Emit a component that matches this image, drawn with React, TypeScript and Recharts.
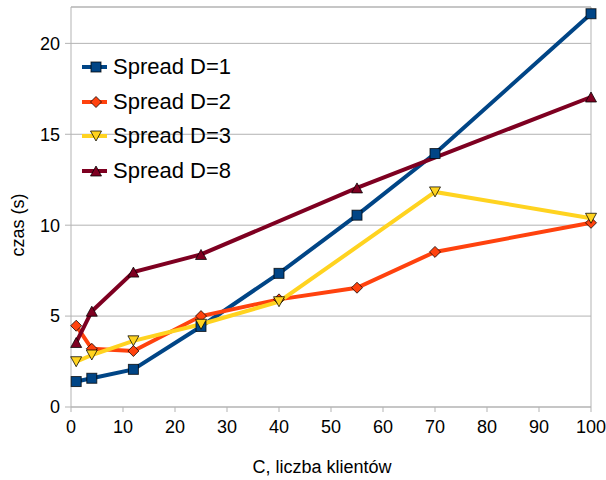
import React from "react";
import {
  LineChart,
  Line,
  XAxis,
  YAxis,
  CartesianGrid,
  ReferenceLine,
  Label,
} from "recharts";

// Response time (s) versus number of clients C, for each spread D
const clientsD1 = [1, 4, 12, 25, 40, 55, 70, 100];
const timeD1 = [1.4, 1.58, 2.07, 4.43, 7.35, 10.55, 13.94, 21.63];

const clientsD2 = [1, 4, 12, 25, 40, 55, 70, 100];
const timeD2 = [4.47, 3.2, 3.08, 5.0, 5.92, 6.56, 8.53, 10.13];

const clientsD3 = [1, 4, 12, 25, 40, 70, 100];
const timeD3 = [2.49, 2.86, 3.64, 4.55, 5.79, 11.83, 10.38];

const clientsD8 = [1, 4, 12, 25, 55, 100];
const timeD8 = [3.55, 5.27, 7.42, 8.39, 12.05, 17.05];

const xTicks = [0, 10, 20, 30, 40, 50, 60, 70, 80, 90, 100];
const yTicks = [0, 5, 10, 15, 20];

type Shape = "square" | "diamond" | "triDown" | "triUp";

const toRows = (xs: number[], ys: number[]) =>
  xs.map((c, i) => ({ c, v: ys[i] }));

const series = [
  { name: "Spread D=1", color: "#004586", shape: "square" as Shape, data: toRows(clientsD1, timeD1) },
  { name: "Spread D=2", color: "#ff420e", shape: "diamond" as Shape, data: toRows(clientsD2, timeD2) },
  { name: "Spread D=3", color: "#ffd320", shape: "triDown" as Shape, data: toRows(clientsD3, timeD3) },
  { name: "Spread D=8", color: "#7e0021", shape: "triUp" as Shape, data: toRows(clientsD8, timeD8) },
];

const FONT = "'Liberation Sans', Arial, sans-serif";
const GRID = "#b3b3b3";

function Marker({ cx, cy, shape, color }: { cx: number; cy: number; shape: Shape; color: string }) {
  const stroke = "rgba(0,0,0,0.75)";
  if (shape === "square") {
    return <rect x={cx - 5} y={cy - 5} width={10} height={10} fill={color} stroke={stroke} strokeWidth={1} />;
  }
  if (shape === "diamond") {
    return (
      <polygon
        points={`${cx},${cy - 5.5} ${cx + 5.5},${cy} ${cx},${cy + 5.5} ${cx - 5.5},${cy}`}
        fill={color}
        stroke={stroke}
        strokeWidth={1}
      />
    );
  }
  if (shape === "triDown") {
    return (
      <polygon
        points={`${cx - 5.5},${cy - 5} ${cx + 5.5},${cy - 5} ${cx},${cy + 5}`}
        fill={color}
        stroke={stroke}
        strokeWidth={1}
      />
    );
  }
  return (
    <polygon
      points={`${cx - 5.5},${cy + 5} ${cx + 5.5},${cy + 5} ${cx},${cy - 5}`}
      fill={color}
      stroke={stroke}
      strokeWidth={1}
    />
  );
}

// Legend drawn as an overlay inside the plot area, top-left
function LegendBox() {
  return (
    <div
      style={{
        position: "absolute",
        left: 82,
        top: 50,
        fontFamily: FONT,
        fontSize: 22,
        color: "#000",
        pointerEvents: "none",
      }}
    >
      {series.map((s) => (
        <div key={s.name} style={{ display: "flex", alignItems: "center", height: 34.5 }}>
          <svg width={31} height={16}>
            <line x1={0} y1={8} x2={25} y2={8} stroke={s.color} strokeWidth={4} />
            <Marker cx={14} cy={8} shape={s.shape} color={s.color} />
          </svg>
          <span style={{ lineHeight: "22px" }}>{s.name}</span>
        </div>
      ))}
    </div>
  );
}

export default function App() {
  return (
    <div style={{ position: "absolute", left: 0, top: 0, width: 606, height: 480, background: "#fff" }}>
      <LineChart width={606} height={480} margin={{ top: 7, right: 15, bottom: 0, left: 0 }}>
        <CartesianGrid vertical={false} stroke={GRID} strokeWidth={1} />
        <XAxis
          type="number"
          dataKey="c"
          domain={[0, 100]}
          ticks={xTicks}
          interval={0}
          height={73}
          stroke={GRID}
          tickSize={5}
          tickMargin={8}
          tick={{ fill: "#000", fontSize: 18, fontFamily: FONT }}
          allowDuplicatedCategory={false}
        >
          <Label
            content={({ viewBox }: any) => (
              <text
                x={viewBox.x + viewBox.width / 2 - 9}
                y={viewBox.y + 66}
                textAnchor="middle"
                fontFamily={FONT}
                fontSize={18}
                fill="#000"
              >
                C, liczba klientów
              </text>
            )}
          />
        </XAxis>
        <YAxis
          type="number"
          domain={[0, 22]}
          ticks={yTicks}
          interval={0}
          width={71}
          stroke={GRID}
          tickSize={6}
          tickMargin={5}
          tick={{ fill: "#000", fontSize: 18, fontFamily: FONT }}
        >
          <Label
            content={({ viewBox }: any) => {
              const x = 24;
              const y = viewBox.y + viewBox.height / 2 + 18;
              return (
                <text
                  x={x}
                  y={y}
                  transform={`rotate(-90, ${x}, ${y})`}
                  textAnchor="middle"
                  fontFamily={FONT}
                  fontSize={18}
                  fill="#000"
                >
                  czas (s)
                </text>
              );
            }}
          />
        </YAxis>
        <ReferenceLine y={22} stroke={GRID} strokeWidth={1} />
        <ReferenceLine x={100} stroke={GRID} strokeWidth={1} />
        {series.map((s) => (
          <Line
            key={s.name}
            name={s.name}
            data={s.data}
            dataKey="v"
            type="linear"
            stroke={s.color}
            strokeWidth={4}
            isAnimationActive={false}
            dot={(p: any) => (
              <Marker key={`${s.name}-${p.index}`} cx={p.cx} cy={p.cy} shape={s.shape} color={s.color} />
            )}
            activeDot={false}
          />
        ))}
      </LineChart>
      <LegendBox />
    </div>
  );
}
